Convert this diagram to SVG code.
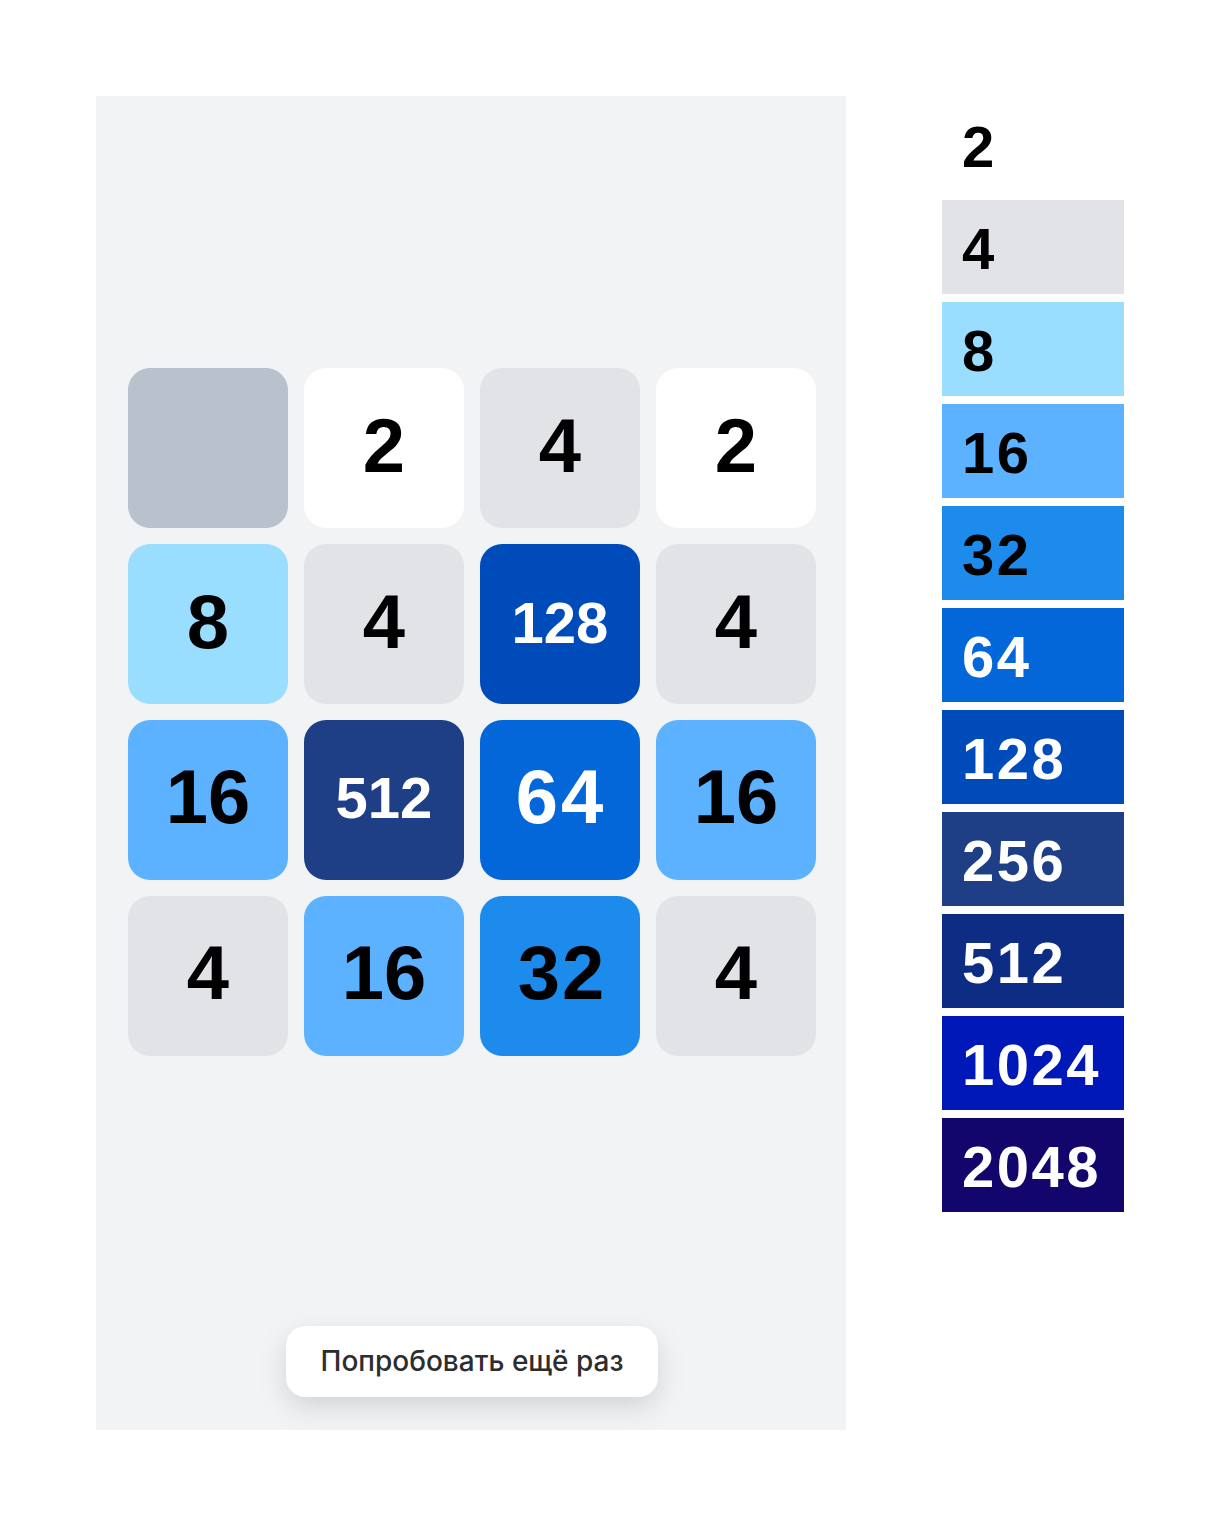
<svg xmlns="http://www.w3.org/2000/svg" width="1220" height="1522" viewBox="0 0 1220 1522">
<style>
.tile text{font-family:"Liberation Sans",Arial,sans-serif;font-weight:bold;text-anchor:middle}
.big{font-size:76px}
.mid{font-size:58px}
.dk{fill:#000}
.lt{fill:#fff}
.leg text{font-family:"Liberation Sans",Arial,sans-serif;font-weight:bold;font-size:58px;letter-spacing:2.5px}
.btn text{font-family:Inter,"Noto Sans",sans-serif;font-size:28px;font-weight:500;fill:#2c2d2e;text-anchor:middle}
</style>
<defs>
<filter id="sh" x="-20%" y="-60%" width="140%" height="260%">
<feDropShadow dx="0" dy="10" stdDeviation="13" flood-color="#000" flood-opacity="0.13"/>
</filter>
</defs>
<rect width="1220" height="1522" fill="#fff"/>
<rect id="board" x="96" y="96" width="750" height="1334" fill="#f2f3f5"/>
<g class="tile" id="t00"><rect x="128" y="368" width="160" height="160" rx="22" fill="#b9c1cd"/></g>
<g class="tile" id="t01"><rect x="304" y="368" width="160" height="160" rx="22" fill="#fff"/><text x="384" y="472" class="big dk">2</text></g>
<g class="tile" id="t02"><rect x="480" y="368" width="160" height="160" rx="22" fill="#e1e3e7"/><text x="560" y="472" class="big dk">4</text></g>
<g class="tile" id="t03"><rect x="656" y="368" width="160" height="160" rx="22" fill="#fff"/><text x="736" y="472" class="big dk">2</text></g>
<g class="tile" id="t10"><rect x="128" y="544" width="160" height="160" rx="22" fill="#99ddff"/><text x="208" y="648" class="big dk">8</text></g>
<g class="tile" id="t11"><rect x="304" y="544" width="160" height="160" rx="22" fill="#e1e3e7"/><text x="384" y="648" class="big dk">4</text></g>
<g class="tile" id="t12"><rect x="480" y="544" width="160" height="160" rx="22" fill="#004bba"/><text x="560" y="643" class="mid lt">128</text></g>
<g class="tile" id="t13"><rect x="656" y="544" width="160" height="160" rx="22" fill="#e1e3e7"/><text x="736" y="648" class="big dk">4</text></g>
<g class="tile" id="t20"><rect x="128" y="720" width="160" height="160" rx="22" fill="#5cb2ff"/><text x="208" y="823" class="big dk">16</text></g>
<g class="tile" id="t21"><rect x="304" y="720" width="160" height="160" rx="22" fill="#1e3f86"/><text x="384" y="818" class="mid lt">512</text></g>
<g class="tile" id="t22"><rect x="480" y="720" width="160" height="160" rx="22" fill="#0366d9"/><text x="561" y="823" class="big lt" letter-spacing="3">64</text></g>
<g class="tile" id="t23"><rect x="656" y="720" width="160" height="160" rx="22" fill="#5cb2ff"/><text x="736" y="823" class="big dk">16</text></g>
<g class="tile" id="t30"><rect x="128" y="896" width="160" height="160" rx="22" fill="#e1e3e7"/><text x="208" y="999" class="big dk">4</text></g>
<g class="tile" id="t31"><rect x="304" y="896" width="160" height="160" rx="22" fill="#5cb2ff"/><text x="384" y="999" class="big dk">16</text></g>
<g class="tile" id="t32"><rect x="480" y="896" width="160" height="160" rx="22" fill="#1d8beb"/><text x="562" y="999" class="big dk" letter-spacing="2">32</text></g>
<g class="tile" id="t33"><rect x="656" y="896" width="160" height="160" rx="22" fill="#e1e3e7"/><text x="736" y="999" class="big dk">4</text></g>
<g class="btn" id="retry"><rect x="286" y="1326" width="372" height="71" rx="20" fill="#fff" filter="url(#sh)"/><text x="472" y="1371">Попробовать ещё раз</text></g>
<g class="leg" id="l2"><rect x="942" y="98" width="182" height="94" fill="#fff"/><text x="962" y="167" fill="#000">2</text></g>
<g class="leg" id="l4"><rect x="942" y="200" width="182" height="94" fill="#e1e3e7"/><text x="962" y="269" fill="#000">4</text></g>
<g class="leg" id="l8"><rect x="942" y="302" width="182" height="94" fill="#99ddff"/><text x="962" y="371" fill="#000">8</text></g>
<g class="leg" id="l16"><rect x="942" y="404" width="182" height="94" fill="#5cb2ff"/><text x="962" y="473" fill="#000">16</text></g>
<g class="leg" id="l32"><rect x="942" y="506" width="182" height="94" fill="#1d8beb"/><text x="962" y="575" fill="#000">32</text></g>
<g class="leg" id="l64"><rect x="942" y="608" width="182" height="94" fill="#0366d9"/><text x="962" y="677" fill="#fff">64</text></g>
<g class="leg" id="l128"><rect x="942" y="710" width="182" height="94" fill="#004bba"/><text x="962" y="779" fill="#fff">128</text></g>
<g class="leg" id="l256"><rect x="942" y="812" width="182" height="94" fill="#1e3f86"/><text x="962" y="881" fill="#fff">256</text></g>
<g class="leg" id="l512"><rect x="942" y="914" width="182" height="94" fill="#0d2c84"/><text x="962" y="983" fill="#fff">512</text></g>
<g class="leg" id="l1024"><rect x="942" y="1016" width="182" height="94" fill="#0018b8"/><text x="962" y="1085" fill="#fff">1024</text></g>
<g class="leg" id="l2048"><rect x="942" y="1118" width="182" height="94" fill="#12066d"/><text x="962" y="1187" fill="#fff">2048</text></g>
<g id="connectors"/>
</svg>
